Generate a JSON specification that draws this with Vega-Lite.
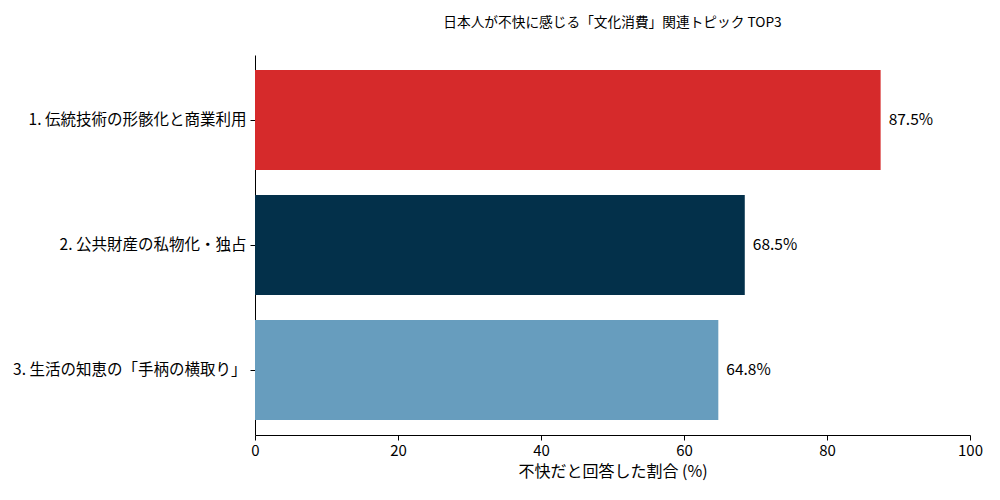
{
  "$schema": "https://vega.github.io/schema/vega-lite/v6.json",
  "autosize": {"type": "none"},
  "padding": {"left": 255, "top": 55, "right": 30, "bottom": 65},
  "width": 715,
  "height": 380,
  "background": "white",
  "title": {
    "text": "日本人が不快に感じる「文化消費」関連トピック TOP3",
    "font": "Noto Sans CJK JP",
    "fontSize": 13.7,
    "fontWeight": "normal",
    "color": "black",
    "anchor": "middle",
    "offset": 25
  },
  "config": {
    "view": {"stroke": null},
    "font": "Noto Sans CJK JP",
    "axis": {
      "domainColor": "black",
      "tickColor": "black",
      "labelColor": "black",
      "titleColor": "black",
      "grid": false,
      "labelFont": "Noto Sans CJK JP",
      "titleFont": "Noto Sans CJK JP"
    }
  },
  "data": {
    "values": [
      {"topic": "1. 伝統技術の形骸化と商業利用", "pct": 87.5, "label": "87.5%", "color": "#d62a2b"},
      {"topic": "2. 公共財産の私物化・独占", "pct": 68.5, "label": "68.5%", "color": "#03304a"},
      {"topic": "3. 生活の知恵の「手柄の横取り」", "pct": 64.8, "label": "64.8%", "color": "#679dbe"}
    ]
  },
  "encoding": {
    "y": {
      "field": "topic",
      "type": "nominal",
      "sort": null,
      "scale": {"paddingInner": 0.2, "paddingOuter": 0.12},
      "axis": {
        "title": null,
        "labelFontSize": 15.5,
        "labelLimit": 0,
        "labelPadding": 4,
        "tickSize": 5,
        "domainWidth": 1
      }
    }
  },
  "layer": [
    {
      "mark": {"type": "bar"},
      "encoding": {
        "x": {
          "field": "pct",
          "type": "quantitative",
          "scale": {"domain": [0, 100], "nice": false},
          "axis": {
            "title": "不快だと回答した割合 (%)",
            "titleFontSize": 16,
            "titleFontWeight": "normal",
            "titlePadding": 5,
            "labelFontSize": 15,
            "labelPadding": 3,
            "tickSize": 5,
            "values": [0, 20, 40, 60, 80, 100],
            "labelFlush": false
          }
        },
        "color": {"field": "color", "type": "nominal", "scale": null}
      }
    },
    {
      "mark": {"type": "text", "align": "left", "baseline": "middle", "dx": 8, "fontSize": 15.5, "color": "black"},
      "encoding": {
        "x": {"field": "pct", "type": "quantitative"},
        "text": {"field": "label", "type": "nominal"}
      }
    }
  ]
}
